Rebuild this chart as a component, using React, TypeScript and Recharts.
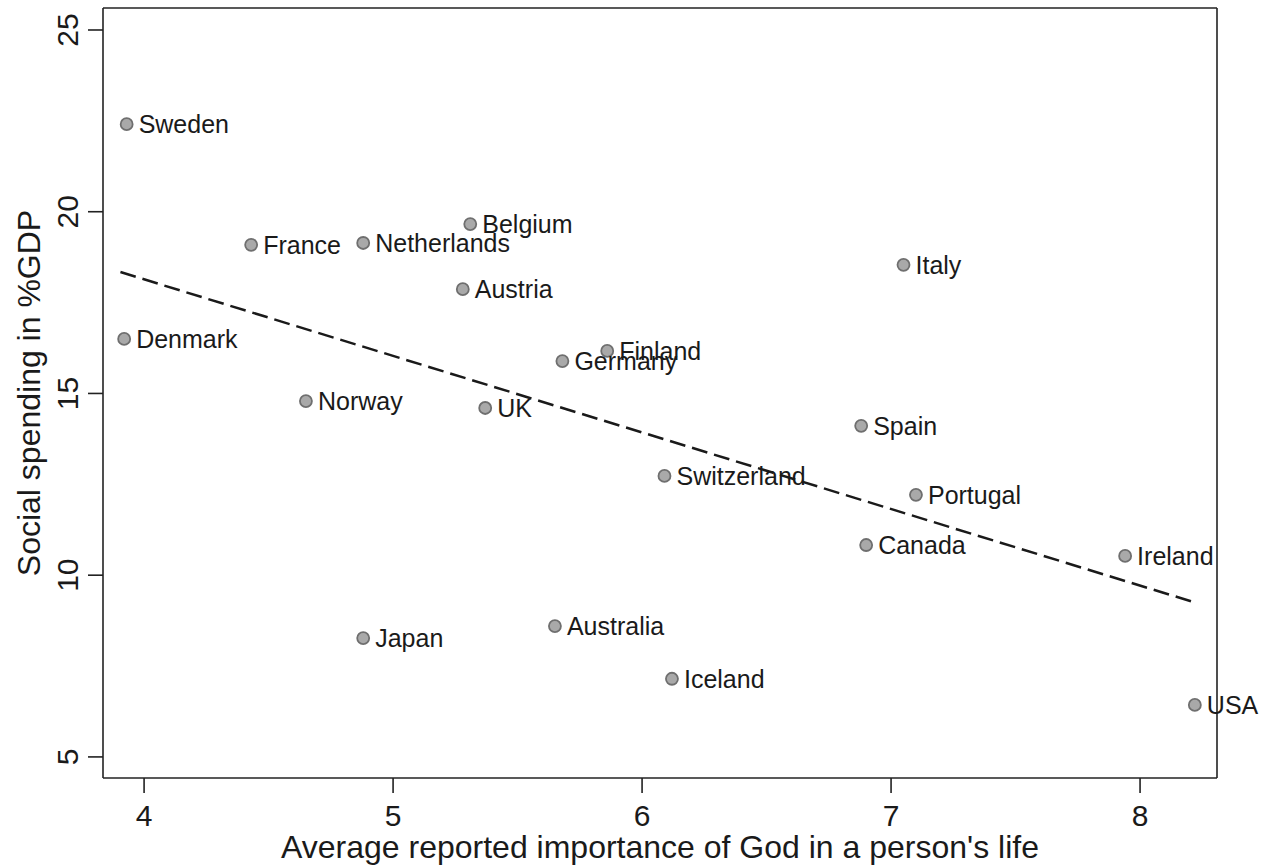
import React from 'react';
import { ScatterChart, Scatter, XAxis, YAxis, ReferenceLine } from 'recharts';

const countries = [
  'Sweden', 'France', 'Netherlands', 'Belgium', 'Austria', 'Italy', 'Denmark',
  'Finland', 'Germany', 'Norway', 'UK', 'Spain', 'Switzerland', 'Portugal',
  'Canada', 'Ireland', 'Japan', 'Australia', 'Iceland', 'USA',
];
const godImportance = [
  3.93, 4.43, 4.88, 5.31, 5.28, 7.05, 3.92,
  5.86, 5.68, 4.65, 5.37, 6.88, 6.09, 7.10,
  6.90, 7.94, 4.88, 5.65, 6.12, 8.22,
];
const socialSpending = [
  22.41, 19.09, 19.14, 19.66, 17.87, 18.54, 16.50,
  16.17, 15.89, 14.79, 14.60, 14.11, 12.73, 12.21,
  10.83, 10.53, 8.27, 8.60, 7.15, 6.43,
];
const fitX = [3.905, 8.225];
const fitY = [18.34, 9.24];
const xTicks = [4, 5, 6, 7, 8];
const yTicks = [5, 10, 15, 20, 25];
const xDomain: [number, number] = [3.835, 8.309];
const yDomain: [number, number] = [4.42, 25.605];

const points = countries.map((name, i) => ({ name, x: godImportance[i], y: socialSpending[i] }));
const fitLine = fitX.map((x, i) => ({ x, y: fitY[i] }));

const FONT = 'Liberation Sans, Arial, sans-serif';
const INK = '#1a1a1a';

const CountryDot = (props: any) => {
  const { cx, cy, payload } = props;
  return (
    <g>
      <circle cx={cx} cy={cy} r={6} fill="#a9a9a9" stroke="#6f6f6f" strokeWidth={1.8} />
      <text x={cx + 12} y={cy + 9} fontSize={25} fontFamily={FONT} fill={INK}>
        {payload.name}
      </text>
    </g>
  );
};

const XTick = (props: any) => {
  const { x, y, payload } = props;
  return (
    <text x={x} y={y + 33} textAnchor="middle" fontSize={30} fontFamily={FONT} fill={INK}>
      {payload.value}
    </text>
  );
};

const YTick = (props: any) => {
  const { x, y, payload } = props;
  const bx = x - 10;
  return (
    <text x={bx} y={y} transform={`rotate(-90, ${bx}, ${y})`} textAnchor="middle" fontSize={30} fontFamily={FONT} fill={INK}>
      {payload.value}
    </text>
  );
};

export default function App() {
  return (
    <div style={{ position: 'absolute', left: 0, top: 0, background: '#fff' }}>
      <ScatterChart width={1266} height={866} margin={{ top: 8, right: 49, left: 0, bottom: 0 }}>
        <XAxis
          type="number"
          dataKey="x"
          domain={xDomain}
          ticks={xTicks}
          height={88}
          tickSize={15}
          tickMargin={0}
          stroke="#222"
          strokeWidth={1.6}
          tick={<XTick />}
          label={{
            content: () => (
              <text x={660} y={858} textAnchor="middle" fontSize={32} fontFamily={FONT} fill={INK}>
                Average reported importance of God in a person's life
              </text>
            ),
          }}
        />
        <YAxis
          type="number"
          dataKey="y"
          domain={yDomain}
          ticks={yTicks}
          width={103}
          tickSize={15}
          tickMargin={0}
          stroke="#222"
          strokeWidth={1.6}
          tick={<YTick />}
          label={{
            content: () => (
              <text x={40} y={393} transform="rotate(-90, 40, 393)" textAnchor="middle" fontSize={32} fontFamily={FONT} fill={INK}>
                Social spending in %GDP
              </text>
            ),
          }}
        />
        <ReferenceLine y={yDomain[1]} stroke="#222" strokeWidth={1.6} />
        <ReferenceLine x={xDomain[1]} stroke="#222" strokeWidth={1.6} />
        <Scatter
          data={fitLine}
          line={{ stroke: '#1a1a1a', strokeWidth: 2.5, strokeDasharray: '16 7' }}
          shape={() => <g />}
          isAnimationActive={false}
        />
        <Scatter data={points} shape={<CountryDot />} isAnimationActive={false} />
      </ScatterChart>
    </div>
  );
}
